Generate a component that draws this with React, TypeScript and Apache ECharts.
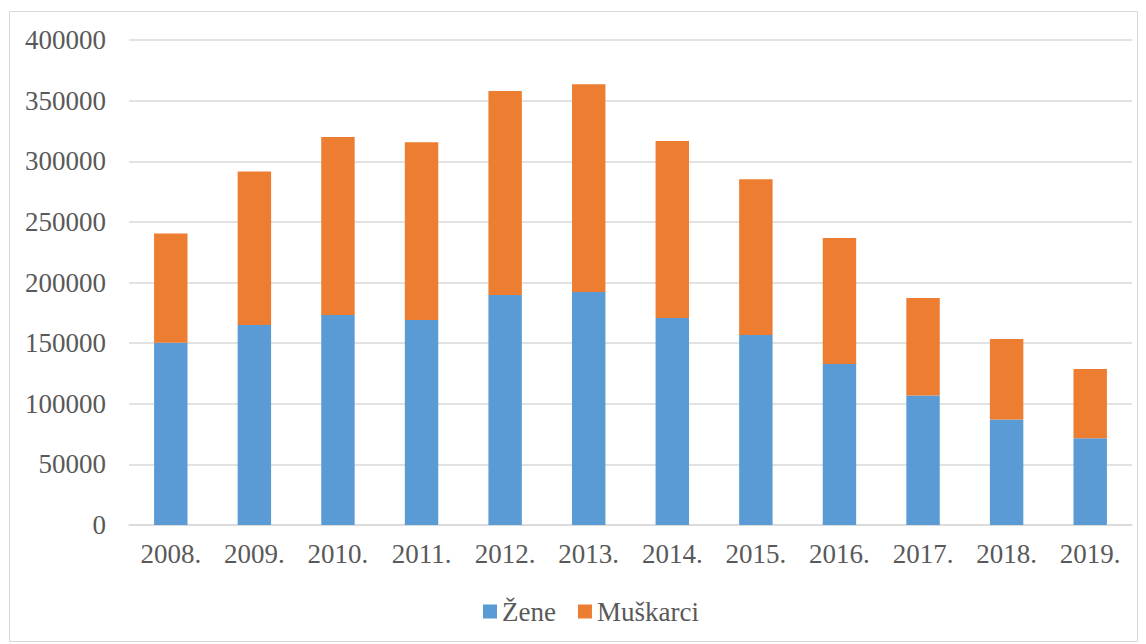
import React, { useEffect, useRef } from "react";
import * as echarts from "echarts";

const categories = ["2008.", "2009.", "2010.", "2011.", "2012.", "2013.", "2014.", "2015.", "2016.", "2017.", "2018.", "2019."];
const zene = [150400, 164900, 173100, 169000, 189600, 192100, 170700, 156700, 132800, 106900, 87100, 71500];
const muskarci = [90000, 126600, 146800, 146700, 168400, 171400, 146100, 128500, 103800, 80300, 66300, 57100];

const FONT = "Liberation Serif";

export default function App() {
  const ref = useRef<HTMLDivElement>(null);
  useEffect(() => {
    if (!ref.current) return;
    const chart = echarts.init(ref.current, null, { renderer: "svg" });
    chart.setOption({
      animation: false,
      backgroundColor: "#ffffff",
      textStyle: { fontFamily: FONT },
      graphic: [
        {
          type: "rect",
          shape: { x: 9.5, y: 11.5, width: 1128, height: 630 },
          style: { fill: "none", stroke: "#d9d9d9", lineWidth: 1 },
          silent: true,
        },
      ],
      grid: { left: 129, right: 14, top: 40, bottom: 119 },
      legend: {
        top: 593,
        left: 478,
        itemWidth: 14,
        itemHeight: 14,
        itemGap: 22,
        icon: "rect",
        textStyle: { fontFamily: FONT, fontSize: 27, color: "#595959" },
        data: ["Žene", "Muškarci"],
      },
      xAxis: {
        type: "category",
        data: categories,
        axisLine: { lineStyle: { color: "#d9d9d9", width: 1.5 } },
        axisTick: { show: false },
        axisLabel: { fontFamily: FONT, fontSize: 27, color: "#595959", margin: 15 },
      },
      yAxis: {
        type: "value",
        min: 0,
        max: 400000,
        interval: 50000,
        axisLine: { show: false },
        axisTick: { show: false },
        splitLine: { lineStyle: { color: "#d9d9d9", width: 1.5 } },
        axisLabel: {
          fontFamily: FONT,
          fontSize: 27,
          color: "#595959",
          margin: 23,
          formatter: (v: number) => String(v),
        },
      },
      series: [
        {
          name: "Žene",
          type: "bar",
          stack: "total",
          data: zene,
          barWidth: "40%",
          itemStyle: { color: "#5b9bd5" },
        },
        {
          name: "Muškarci",
          type: "bar",
          stack: "total",
          data: muskarci,
          barWidth: "40%",
          itemStyle: { color: "#ed7d31" },
        },
      ],
    });
    return () => chart.dispose();
  }, []);
  return <div ref={ref} style={{ width: 1146, height: 644, position: "absolute", left: 0, top: 0 }} />;
}
